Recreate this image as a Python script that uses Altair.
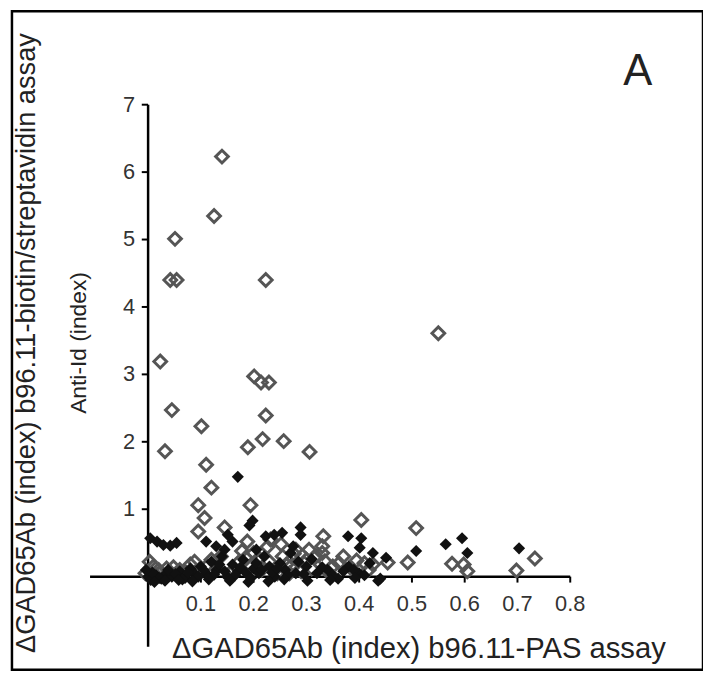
import altair as alt
import pandas as pd

# ---- data ----
open_x = [0.140, 0.125, 0.051, 0.042, 0.054, 0.223, 0.023, 0.201, 0.214, 0.229,
          0.045, 0.101, 0.223, 0.217, 0.257, 0.189, 0.032, 0.306, 0.110, 0.120,
          0.095, 0.194, 0.107, 0.404, 0.095, 0.145, 0.332, 0.330, 0.330, 0.335,
          0.508, 0.492, 0.454, 0.426, 0.576, 0.598, 0.605, 0.733, 0.698, 0.550,
          0.010, 0.020, -0.005, 0.035, 0.060, 0.080, 0.100, 0.120, 0.130, 0.155,
          0.170, 0.185, 0.195, 0.200, 0.215, 0.230, 0.245, 0.255, 0.270, 0.280,
          0.290, 0.300, 0.310, 0.350, 0.370, 0.385, 0.410,
          0.003, 0.015, 0.048, 0.072, 0.088, 0.112, 0.138, 0.162, 0.178, 0.208,
          0.226, 0.238, 0.262, 0.276, 0.296, 0.318, 0.342, 0.362, 0.395, 0.418,
          0.188, 0.232, 0.252, 0.268, 0.305]
open_y = [6.23, 5.35, 5.01, 4.40, 4.40, 4.40, 3.19, 2.97, 2.88, 2.88,
          2.47, 2.23, 2.39, 2.04, 2.01, 1.92, 1.86, 1.85, 1.66, 1.32,
          1.06, 1.06, 0.87, 0.84, 0.67, 0.73, 0.60, 0.45, 0.35, 0.23,
          0.72, 0.21, 0.21, 0.18, 0.19, 0.18, 0.08, 0.27, 0.09, 3.61,
          0.15, 0.10, 0.05, 0.12, 0.10, 0.18, 0.08, 0.25, 0.12, 0.05,
          0.20, 0.28, 0.15, 0.35, 0.10, 0.22, 0.05, 0.30, 0.15, 0.40,
          0.08, 0.25, 0.12, 0.15, 0.30, 0.12, 0.20,
          0.22, 0.02, 0.14, 0.06, 0.22, 0.16, 0.30, 0.10, 0.38, 0.26,
          0.44, 0.08, 0.18, 0.34, 0.20, 0.30, 0.06, 0.20, 0.24, 0.10,
          0.52, 0.55, 0.48, 0.05, 0.40]

filled_x = [0.004, 0.017, 0.029, 0.042, 0.054, 0.000, 0.005, 0.015, 0.025, 0.035,
            0.045, 0.060, 0.070, 0.080, 0.090, 0.100, 0.110, 0.120, 0.130, 0.140,
            0.150, 0.160, 0.170, 0.180, 0.190, 0.200, 0.210, 0.220, 0.230, 0.240,
            0.250, 0.260, 0.270, 0.280, 0.300, 0.320, 0.340, 0.360, 0.380, 0.400,
            0.420, 0.170, 0.198, 0.192, 0.151, 0.160, 0.110, 0.129, 0.223, 0.239,
            0.254, 0.289, 0.289, 0.379, 0.404, 0.401, 0.426, 0.451, 0.436, 0.508,
            0.564, 0.595, 0.605, 0.703,
            0.008, 0.022, 0.038, 0.052, 0.065, 0.076, 0.095, 0.105, 0.125, 0.135,
            0.145, 0.165, 0.175, 0.185, 0.205, 0.215, 0.235, 0.245, 0.265, 0.285,
            0.295, 0.310, 0.330, 0.350, 0.370, 0.390, 0.410, 0.145, 0.205, 0.275,
            -0.004, 0.012, 0.032, 0.058, 0.084, 0.115, 0.155, 0.195, 0.228, 0.258,
            0.302, 0.345, 0.392, 0.440]
filled_y = [0.57, 0.52, 0.47, 0.46, 0.50, 0.00, -0.05, 0.02, -0.03, 0.05,
            0.00, 0.08, -0.02, 0.12, 0.03, 0.15, 0.05, 0.22, 0.10, 0.30,
            0.00, 0.18, 0.08, 0.25, -0.08, 0.12, 0.05, 0.30, 0.15, 0.00,
            0.20, 0.10, 0.35, 0.05, 0.15, 0.05, 0.10, -0.03, 0.15, 0.05,
            0.20, 1.48, 0.83, 0.76, 0.62, 0.52, 0.52, 0.45, 0.60, 0.62,
            0.65, 0.73, 0.62, 0.60, 0.57, 0.43, 0.35, 0.28, -0.06, 0.38,
            0.48, 0.57, 0.35, 0.42,
            0.06, -0.02, 0.10, 0.04, -0.04, 0.06, 0.00, 0.10, 0.03, 0.18,
            0.08, 0.02, 0.14, 0.06, 0.20, 0.10, 0.06, 0.12, 0.02, 0.22,
            0.04, 0.26, 0.14, 0.02, 0.08, 0.10, 0.02, 0.40, 0.40, 0.45,
            0.10, -0.08, -0.06, -0.05, -0.07, -0.04, -0.06, -0.02, -0.07, -0.04,
            -0.06, -0.05, -0.02, -0.03]

x_ticks = [0.1, 0.2, 0.3, 0.4, 0.5, 0.6, 0.7, 0.8]
y_ticks = [1, 2, 3, 4, 5, 6, 7]
x_tick_labels = ["0.1", "0.2", "0.3", "0.4", "0.5", "0.6", "0.7", "0.8"]
y_tick_labels = ["1", "2", "3", "4", "5", "6", "7"]
x_axis_span = [-0.11, 0.8]
y_axis_span = [-1.04, 7.0]
x_tick_len = -0.088   # in y units, below the x axis
y_tick_len = -0.012   # in x units, left of the y axis

x_title = "\u0394GAD65Ab (index) b96.11-PAS assay"
y_title_1 = "\u0394GAD65Ab (index) b96.11-biotin/streptavidin assay"
y_title_2 = "Anti-Id (index)"
panel_label = "A"

FONT = "Liberation Sans"

x_scale = alt.Scale(domain=[-0.258, 1.0516], nice=False, zero=False)
y_scale = alt.Scale(domain=[-1.380, 8.385], nice=False, zero=False)

df_open = pd.DataFrame({"x": open_x, "y": open_y})
df_filled = pd.DataFrame({"x": filled_x, "y": filled_y})
df_xline = pd.DataFrame({"x0": [x_axis_span[0]], "x1": [x_axis_span[1]], "y": [0.0]})
df_yline = pd.DataFrame({"x": [0.0], "y0": [y_axis_span[0]], "y1": [y_axis_span[1]]})
df_xt = pd.DataFrame({"x": x_ticks, "lab": x_tick_labels, "y0": [0.0] * len(x_ticks),
                      "y1": [x_tick_len] * len(x_ticks)})
df_yt = pd.DataFrame({"y": y_ticks, "lab": y_tick_labels, "x0": [0.0] * len(y_ticks),
                      "x1": [y_tick_len] * len(y_ticks)})

X = lambda f: alt.X(f, scale=x_scale, axis=None)
Y = lambda f: alt.Y(f, scale=y_scale, axis=None)

xline = alt.Chart(df_xline).mark_rule(color="black", strokeWidth=2.5).encode(
    x=X("x0:Q"), x2="x1:Q", y=Y("y:Q"))
yline = alt.Chart(df_yline).mark_rule(color="black", strokeWidth=2.5).encode(
    x=X("x:Q"), y=Y("y0:Q"), y2="y1:Q")
xticks = alt.Chart(df_xt).mark_rule(color="black", strokeWidth=2).encode(
    x=X("x:Q"), y=Y("y0:Q"), y2="y1:Q")
yticks = alt.Chart(df_yt).mark_rule(color="black", strokeWidth=2).encode(
    x=X("x0:Q"), x2="x1:Q", y=Y("y:Q"))
xlabels = alt.Chart(df_xt).mark_text(
    font=FONT, fontSize=22, color="#333333", align="center", baseline="top", dy=18
).encode(x=X("x:Q"), y=Y("y0:Q"), text="lab:N")
ylabels = alt.Chart(df_yt).mark_text(
    font=FONT, fontSize=22, color="#333333", align="right", baseline="middle", dx=-13
).encode(x=X("x0:Q"), y=Y("y:Q"), text="lab:N")

pts_open = alt.Chart(df_open).mark_point(
    shape="diamond", filled=False, size=165, stroke="#555555", strokeWidth=3, opacity=1
).encode(x=X("x:Q"), y=Y("y:Q"))
pts_filled = alt.Chart(df_filled).mark_point(
    shape="diamond", filled=True, size=150, color="#111111", opacity=1
).encode(x=X("x:Q"), y=Y("y:Q"))


def label(text, x, y, size, angle=0):
    return alt.Chart(pd.DataFrame({"t": [text]})).mark_text(
        font=FONT, fontSize=size, color="#222222", angle=angle,
        align="center", baseline="middle"
    ).encode(text="t:N", x=alt.value(x), y=alt.value(y))


t_x = label(x_title, 411, 644, 29.5)
t_y1 = label(y_title_1, 15, 335, 27.5, angle=270)
t_y2 = label(y_title_2, 68, 335, 23, angle=270)
t_a = label(panel_label, 632, 61, 44)

chart = alt.layer(
    xline, yline, xticks, yticks, xlabels, ylabels, pts_open, pts_filled,
    t_x, t_y1, t_y2, t_a
).properties(
    width=698, height=665,
    padding={"left": 4, "top": 0, "right": 0, "bottom": 0},
    autosize=alt.AutoSizeParams(type="none"),
    background="white",
).configure_view(stroke="black", strokeWidth=2.5)

chart.save("out.html", embed_options={"renderer": "svg", "actions": False})
